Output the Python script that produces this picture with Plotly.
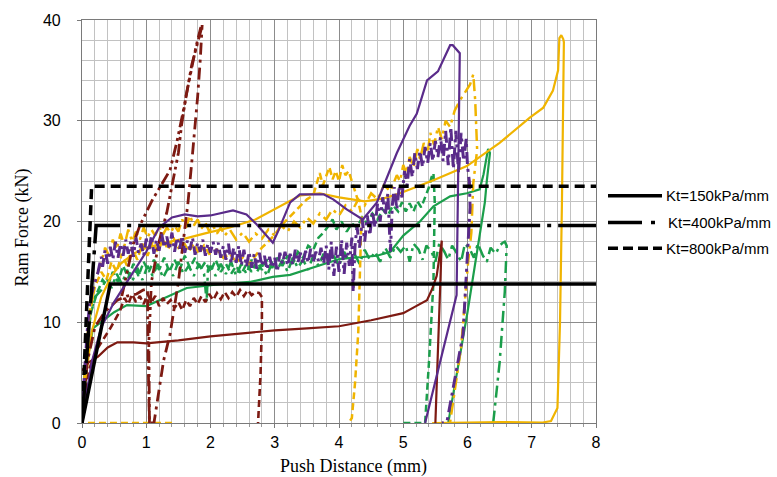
import plotly.graph_objects as go

# ---------------- data: push distance (mm) vs ram force (kN) ----------------
# idealised bilinear spring responses
kt_labels = ["Kt=150kPa/mm", "Kt=400kPa/mm", "Kt=800kPa/mm"]
kt150_x = [0, 0.44, 8]
kt150_y = [0, 13.8, 13.8]
kt400_x = [0, 0.22, 8]
kt400_y = [0, 19.6, 19.6]
kt800_x = [0, 0.15, 8]
kt800_y = [0, 23.5, 23.5]

# dark red tests
red_solid = [(0, 5.2), (0.1, 6.0), (0.25, 6.6), (0.4, 7.5), (0.55, 8.0), (0.8, 8.0), (1.0, 7.9),
             (1.5, 8.2), (2.0, 8.6), (2.5, 8.9), (3.0, 9.2), (3.5, 9.4), (4.0, 9.6), (4.5, 10.2),
             (4.8, 10.6), (5.0, 10.9), (5.2, 11.6), (5.37, 12.2), (5.45, 13.3), (5.52, 14.6),
             (5.6, 18.1), (5.5, 0)]
red_dash = [(0, 0), (0.05, 3), (0.12, 5.5), (0.25, 7.5), (0.44, 9.4), (0.59, 11.1), (0.66, 12.4),
            (0.72, 11.8), (0.78, 12.8), (0.84, 12.0), (0.9, 12.6), (0.96, 11.8), (1.02, 12.8),
            (1.08, 12.0), (1.14, 12.6), (1.2, 11.6), (1.26, 12.4), (1.32, 11.8), (1.38, 12.2),
            (1.44, 11.4), (1.5, 12.0), (1.56, 11.2), (1.62, 12.2), (1.68, 11.6), (1.74, 12.4),
            (1.8, 11.8), (1.86, 12.6), (1.92, 12.0), (1.98, 12.8), (2.04, 12.2), (2.1, 12.9),
            (2.16, 12.3), (2.22, 13.0), (2.28, 12.4), (2.34, 13.0), (2.4, 12.5), (2.46, 13.2),
            (2.52, 12.6), (2.58, 13.2), (2.64, 12.7), (2.7, 13.0), (2.76, 12.9), (2.8, 12.5),
            (2.8, 10.0), (2.78, 5.0), (2.74, 0)]
red_dashdot = [(0, 0), (0.08, 6), (0.2, 9.5), (0.35, 11), (0.55, 12.2), (0.7, 12.6), (0.85, 12.8),
               (0.95, 13.2), (1.02, 13.3), (1.03, 6), (1.05, 0), (1.12, 0), (1.27, 6.2),
               (1.37, 8.8), (1.5, 14), (1.6, 19), (1.65, 21.9), (1.71, 26), (1.76, 29.5),
               (1.8, 32.4), (1.84, 36), (1.87, 39.5)]
red_dashdot_b = [(0.62, 12.6), (0.72, 15.5), (0.8, 17.8), (0.9, 19.6), (0.98, 20.7), (1.1, 22.2),
                 (1.25, 23.8), (1.37, 25.1), (1.48, 28.0), (1.6, 31.7), (1.71, 35.6), (1.8, 37.8),
                 (1.86, 39.2)]
red_dashdot_c = [(1.05, 0), (1.04, 8), (1.08, 14), (1.2, 18), (1.32, 20.9), (1.42, 24), (1.5, 26.8),
                 (1.55, 29.6), (1.62, 32.5), (1.7, 35), (1.78, 37.5), (1.85, 39.3)]

# purple tests
purple_solid = [(0, 0), (0.05, 2), (0.15, 6), (0.3, 9.5), (0.5, 12), (0.75, 14.5), (1.0, 17),
                (1.2, 19.4), (1.4, 20.4), (1.6, 20.7), (1.8, 20.5), (2.0, 20.6), (2.35, 21.1),
                (2.56, 20.7), (2.72, 19.7), (2.97, 17.9), (3.05, 19.0), (3.24, 21.9), (3.39, 22.7),
                (3.76, 22.7), (3.91, 22.2), (4.12, 21.2), (4.27, 20.6), (4.37, 20.2), (4.59, 21.9),
                (4.9, 26.8), (5.1, 29.5), (5.21, 30.7), (5.37, 34), (5.54, 34.9), (5.73, 37.5),
                (5.77, 37.5), (5.88, 36.7), (5.83, 12.7), (5.34, 0)]
purple_dashdot = [(0, 0), (0.03, 4), (0.08, 9), (0.12, 12), (0.18, 13.5), (0.25, 15), (0.3, 16.5),
                  (0.32, 15.5), (0.36, 17.2), (0.4, 15.8), (0.44, 17.5), (0.48, 16.2), (0.52, 18.0),
                  (0.56, 16.4), (0.6, 17.8), (0.64, 16.6), (0.68, 18.2), (0.72, 16.8), (0.76, 18.0),
                  (0.8, 16.5), (0.84, 18.4), (0.88, 16.9), (0.92, 17.8), (0.96, 16.6), (1.0, 18.3),
                  (1.04, 17.0), (1.08, 18.6), (1.12, 16.8), (1.16, 18.2), (1.2, 17.1), (1.24, 18.8),
                  (1.28, 17.4), (1.32, 18.5), (1.36, 17.2), (1.4, 18.9), (1.44, 17.0), (1.48, 18.4),
                  (1.52, 17.3), (1.56, 18.6), (1.6, 16.9), (1.64, 18.1), (1.68, 17.2), (1.72, 18.4),
                  (1.76, 16.7), (1.8, 17.9), (1.84, 17.0), (1.88, 18.2), (1.92, 16.6), (1.96, 17.8),
                  (2.0, 16.9), (2.04, 18.0), (2.08, 16.7), (2.12, 17.9), (2.16, 16.4), (2.2, 17.6),
                  (2.24, 16.2), (2.28, 17.8), (2.32, 15.8), (2.36, 17.4), (2.4, 15.9), (2.44, 17.6),
                  (2.48, 15.6), (2.52, 17.2), (2.56, 15.5), (2.6, 17.0), (2.64, 15.4), (2.68, 16.8),
                  (2.72, 15.3), (2.76, 16.9), (2.8, 15.6), (2.84, 16.6), (2.88, 15.2), (2.92, 16.5),
                  (2.96, 15.4), (3.0, 16.4), (3.04, 15.0), (3.08, 16.9), (3.12, 15.8), (3.16, 17.0),
                  (3.2, 15.6), (3.24, 16.8), (3.28, 15.7), (3.32, 17.2), (3.36, 15.9), (3.4, 16.9),
                  (3.44, 15.8), (3.48, 17.1), (3.52, 15.9), (3.56, 17.3), (3.6, 16.0), (3.64, 17.0),
                  (3.68, 16.1), (3.72, 17.4), (3.76, 15.8), (3.8, 17.6), (3.84, 15.2), (3.88, 18.0),
                  (3.92, 14.6), (3.96, 17.5), (4.0, 15.0), (4.04, 18.2), (4.08, 14.8), (4.12, 17.9),
                  (4.16, 15.6), (4.2, 18.4), (4.22, 13.0), (4.25, 17.6), (4.28, 19.5), (4.32, 17.4),
                  (4.36, 20.2), (4.4, 18.0), (4.44, 20.6), (4.48, 18.6), (4.52, 21.0), (4.56, 19.4),
                  (4.6, 21.8), (4.64, 20.0), (4.68, 22.4), (4.72, 20.6), (4.76, 22.8), (4.8, 17.0),
                  (4.83, 21.6), (4.86, 23.4), (4.9, 21.2), (4.94, 23.6), (4.98, 22.4), (5.02, 25.0),
                  (5.06, 23.6), (5.1, 26.2), (5.14, 24.4), (5.18, 26.8), (5.22, 25.2), (5.26, 27.0),
                  (5.3, 25.4), (5.34, 27.4), (5.38, 25.8), (5.42, 27.8), (5.46, 26.0), (5.5, 28.0),
                  (5.54, 26.4), (5.58, 28.4), (5.62, 26.0), (5.66, 29.0), (5.7, 25.6), (5.74, 29.4),
                  (5.78, 25.2), (5.82, 29.0), (5.86, 24.8), (5.9, 28.8), (5.94, 26.0), (5.98, 28.2),
                  (6.0, 25.5), (6.03, 23.9), (6.04, 21.4), (5.93, 8.8), (5.68, 0.1), (5.6, 0)]

# gold tests
gold_solid = [(0, 0), (0.05, 4), (0.15, 9), (0.3, 12.5), (0.45, 14.5), (0.6, 15.8), (0.8, 16.8),
              (1.0, 17.4), (1.3, 17.9), (1.6, 18.3), (1.9, 18.8), (2.3, 19.4), (2.7, 20.2),
              (3.08, 21.5), (3.4, 22.6), (3.7, 22.8), (4.0, 22.4), (4.4, 22.0), (4.7, 22.3),
              (4.95, 22.8), (5.47, 24.1), (5.99, 25.5), (6.5, 27.8), (6.97, 30.3), (7.18, 31.3),
              (7.33, 33), (7.41, 35), (7.43, 38.2), (7.46, 38.5), (7.49, 38.1), (7.5, 37.8),
              (7.47, 21.9), (7.44, 10), (7.4, 1.5), (7.3, 0.2), (7.17, 0.05), (6.5, 0.1),
              (6.0, 0.05), (5.45, 0)]
gold_dashdot = [(0, 0), (0.04, 5), (0.1, 10), (0.2, 14), (0.3, 16), (0.36, 17.4), (0.42, 16.6),
                (0.48, 18.2), (0.54, 17.2), (0.6, 18.8), (0.66, 17.6), (0.72, 19.2), (0.78, 18.0),
                (0.84, 19.0), (0.9, 18.2), (0.96, 19.4), (1.02, 18.4), (1.08, 19.2), (1.14, 18.6),
                (1.2, 19.5), (1.26, 18.7), (1.32, 19.4), (1.38, 18.9), (1.44, 19.6), (1.5, 19.0),
                (1.56, 20.2), (1.62, 19.4), (1.68, 20.6), (1.74, 19.6), (1.8, 20.2), (1.86, 19.3),
                (1.92, 19.9), (1.98, 19.0), (2.04, 19.6), (2.1, 18.8), (2.16, 19.4), (2.22, 18.6),
                (2.3, 19.2), (2.4, 18.2), (2.5, 18.9), (2.6, 18.0), (2.7, 18.8), (2.8, 18.3),
                (2.9, 19.2), (3.0, 18.6), (3.1, 19.6), (3.2, 19.0), (3.3, 20.0), (3.4, 19.4),
                (3.5, 20.4), (3.6, 19.8), (3.7, 20.8), (3.8, 20.2), (3.9, 21.2), (4.0, 20.6),
                (4.1, 21.6), (4.2, 21.0), (4.3, 22.2), (4.4, 21.6), (4.5, 22.8), (4.6, 22.2),
                (4.7, 23.6), (4.8, 23.0), (4.9, 24.6), (4.95, 24.0), (5.0, 25.6), (5.05, 24.8),
                (5.1, 26.4), (5.16, 25.4), (5.22, 27.2), (5.26, 26.2), (5.32, 27.8), (5.38, 26.8),
                (5.42, 28.8), (5.48, 27.6), (5.54, 29.4), (5.6, 28.2), (5.66, 30.0), (5.73, 29.4),
                (5.8, 31.0), (5.88, 32.0), (5.96, 32.8), (6.04, 33.6), (6.09, 34.6), (6.12, 32.0),
                (6.15, 27.1), (6.09, 23.8), (6.06, 18.9), (6.01, 16.0), (5.9, 7.5), (5.73, 0.1)]
gold_dash = [(1.4, 0), (0, 0), (0.05, 6), (0.12, 11), (0.2, 13.5), (0.3, 15.0), (0.38, 14.2),
             (0.46, 16.0), (0.54, 15.0), (0.62, 16.8), (0.7, 15.6), (0.78, 17.4), (0.86, 16.2),
             (0.94, 17.8), (1.02, 16.6), (1.1, 18.0), (1.18, 17.0), (1.26, 18.2), (1.34, 17.2),
             (1.42, 18.4), (1.5, 17.4), (1.58, 18.0), (1.66, 17.0), (1.74, 17.8), (1.82, 16.8),
             (1.9, 17.6), (1.98, 16.8), (2.1, 17.2), (2.2, 16.4), (2.3, 16.8), (2.4, 16.0),
             (2.5, 16.4), (2.6, 15.8), (2.7, 16.6), (2.8, 17.4), (2.9, 18.0), (3.0, 18.7),
             (3.1, 19.6), (3.24, 20.5), (3.4, 21.5), (3.5, 22.2), (3.6, 22.6), (3.65, 23.8),
             (3.7, 24.8), (3.75, 23.6), (3.8, 24.4), (3.85, 25.4), (3.9, 24.2), (3.95, 25.0),
             (4.0, 24.0), (4.05, 25.6), (4.1, 24.6), (4.15, 25.0), (4.2, 24.0), (4.25, 23.0),
             (4.3, 22.0), (4.35, 20.5), (4.33, 15.0), (4.3, 9.0), (4.25, 4.0), (4.2, 0.5), (4.15, 0)]

# green tests
green_solid = [(0, 0), (0.05, 5), (0.17, 9.4), (0.3, 10.0), (0.5, 11.0), (0.7, 11.7), (1.0, 11.6),
               (1.32, 12.5), (1.63, 13.4), (2.04, 13.7), (2.61, 14.0), (2.97, 14.5), (3.24, 14.7),
               (4.02, 16.3), (4.59, 16.6), (4.8, 17.0), (5.0, 18.6), (5.26, 20.0), (5.47, 21.5),
               (5.73, 22.5), (5.99, 22.8), (6.19, 23.2), (6.25, 24.7), (6.32, 27.2), (6.35, 26.8),
               (6.3, 24.0), (6.27, 21.9), (6.0, 11.0), (5.7, 0)]
green_dashdot = [(0, 0), (0.05, 6), (0.12, 10.5), (0.2, 12.5), (0.3, 13.2), (0.38, 14.4), (0.46, 13.4),
                 (0.54, 14.8), (0.62, 13.8), (0.7, 15.2), (0.78, 14.0), (0.86, 15.4), (0.94, 14.2),
                 (1.02, 15.6), (1.1, 14.6), (1.18, 15.8), (1.26, 14.4), (1.34, 15.4), (1.42, 14.6),
                 (1.5, 16.0), (1.58, 14.8), (1.66, 15.6), (1.74, 14.6), (1.82, 15.8), (1.9, 14.8),
                 (1.94, 12.0), (1.96, 15.2), (2.0, 15.6), (2.08, 14.6), (2.16, 15.8), (2.24, 14.8),
                 (2.32, 16.0), (2.4, 14.6), (2.48, 15.8), (2.56, 14.8), (2.64, 16.2), (2.72, 15.0),
                 (2.8, 15.8), (2.88, 14.6), (2.96, 16.0), (3.04, 15.2), (3.12, 16.2), (3.2, 15.0),
                 (3.28, 16.4), (3.36, 15.4), (3.44, 16.2), (3.52, 15.2), (3.6, 16.6), (3.68, 15.6),
                 (3.76, 16.8), (3.84, 15.8), (3.92, 16.6), (4.0, 15.6), (4.08, 17.0), (4.16, 16.0),
                 (4.24, 16.8), (4.32, 15.8), (4.4, 17.2), (4.48, 16.2), (4.56, 17.0), (4.64, 16.0),
                 (4.72, 17.4), (4.8, 16.4), (4.88, 17.6), (4.96, 17.0), (5.04, 17.6), (5.1, 16.0),
                 (5.16, 17.8), (5.24, 17.2), (5.3, 16.2), (5.36, 17.6), (5.44, 17.0), (5.5, 16.0),
                 (5.56, 17.8), (5.64, 17.0), (5.7, 16.2), (5.76, 17.6), (5.84, 16.8), (5.9, 16.0),
                 (5.96, 17.8), (6.04, 17.2), (6.1, 16.4), (6.16, 17.8), (6.24, 16.6), (6.3, 16.0),
                 (6.36, 17.4), (6.44, 16.8), (6.5, 17.6), (6.55, 17.9), (6.58, 18.0), (6.61, 17.6),
                 (6.58, 13.0), (6.5, 6.0), (6.4, 0)]
green_dash = [(0, 0), (0.06, 7), (0.14, 11), (0.24, 13), (0.32, 14.2), (0.4, 13.6), (0.48, 15.0),
              (0.56, 14.0), (0.64, 15.6), (0.72, 14.4), (0.8, 15.8), (0.88, 14.6), (0.96, 16.0),
              (1.04, 15.0), (1.12, 16.2), (1.2, 15.2), (1.28, 16.4), (1.36, 15.0), (1.44, 16.2),
              (1.52, 15.2), (1.6, 16.6), (1.68, 15.4), (1.76, 16.4), (1.84, 15.2), (1.92, 16.0),
              (2.0, 15.0), (2.08, 16.2), (2.16, 15.0), (2.24, 15.8), (2.32, 14.8), (2.4, 15.6),
              (2.48, 14.8), (2.56, 15.8), (2.64, 15.0), (2.72, 16.0), (2.8, 15.2), (2.88, 16.2),
              (2.96, 15.4), (3.04, 16.4), (3.12, 15.6), (3.2, 16.6), (3.28, 15.8), (3.36, 17.0),
              (3.44, 16.4), (3.52, 17.6), (3.6, 17.2), (3.68, 18.4), (3.76, 18.9), (3.84, 19.6),
              (3.9, 20.2), (3.96, 19.2), (4.04, 20.0), (4.12, 19.0), (4.2, 19.8), (4.28, 19.4),
              (4.36, 20.4), (4.44, 19.8), (4.52, 20.8), (4.6, 20.2), (4.68, 21.2), (4.76, 20.6),
              (4.84, 21.6), (4.92, 21.0), (4.98, 21.9), (5.04, 21.0), (5.1, 21.8), (5.16, 21.0),
              (5.22, 22.0), (5.28, 21.4), (5.34, 22.4), (5.4, 23.4), (5.44, 24.4), (5.47, 24.8),
              (5.49, 22.0), (5.47, 14.0), (5.4, 6.0), (5.34, 0), (5.0, 0)]

# ---------------- styling ----------------
RED = "#7D1A12"
PURPLE = "#5A2B8A"
GOLD = "#F0B400"
GREEN = "#1B9E4B"
DASH_DOT = "12px,5px,3px,5px"
DASH_DOT_DOT = "12px,4px,3px,4px,3px,4px"
DASH = "7px,4px"

series = [
    (green_solid, GREEN, "solid", 2.2),
    (green_dashdot, GREEN, DASH_DOT, 2.5),
    (green_dash, GREEN, DASH, 2.5),
    (gold_solid, GOLD, "solid", 2.2),
    (gold_dashdot, GOLD, DASH_DOT, 2.5),
    (gold_dash, GOLD, DASH, 2.5),
    (red_solid, RED, "solid", 2.2),
    (red_dash, RED, DASH, 2.6),
    (red_dashdot, RED, DASH_DOT, 2.8),
    (red_dashdot_b, RED, DASH_DOT_DOT, 2.8),
    (red_dashdot_c, RED, DASH_DOT_DOT, 2.8),
    (purple_dashdot, PURPLE, DASH_DOT, 3.0),
    (purple_solid, PURPLE, "solid", 2.2),
]

fig = go.Figure()
for pts, color, dash, width in series:
    xs = [p[0] for p in pts]
    ys = [p[1] for p in pts]
    fig.add_trace(go.Scatter(x=xs, y=ys, mode="lines", showlegend=False, hoverinfo="skip",
                             line=dict(color=color, width=width, dash=dash)))

KT_DASH = ["solid", "42px,7px,4px,7px", "10px,6px"]
for (xs, ys), dash, name in zip([(kt150_x, kt150_y), (kt400_x, kt400_y), (kt800_x, kt800_y)],
                                KT_DASH, kt_labels):
    fig.add_trace(go.Scatter(x=xs, y=ys, mode="lines", name=name, showlegend=False,
                             hoverinfo="skip", line=dict(color="black", width=3.5, dash=dash)))

# legend drawn beside the plot area
L, R, T, B = 82, 596, 15, 423
W, H = R - L, B - T


def px_x(px):
    return (px - L) / W


def px_y(py):
    return (B - py) / H


legend_rows = [(193, "solid", 608, 662, 664), (220, "34px,9px,4px,30px", 608, 656, 666),
               (246, "10px,5px", 608, 662, 664)]
for (py, dash, x0, x1, tx), label in zip(legend_rows, kt_labels):
    fig.add_shape(type="line", xref="paper", yref="paper", x0=px_x(x0), x1=px_x(x1),
                  y0=px_y(py), y1=px_y(py), line=dict(color="black", width=3.5, dash=dash))
    fig.add_annotation(xref="paper", yref="paper", x=px_x(tx), y=px_y(py), text=label,
                       showarrow=False, xanchor="left", yanchor="middle",
                       font=dict(family="Arial, Liberation Sans", size=15, color="black"))

# axis titles
fig.add_annotation(xref="paper", yref="paper", x=px_x(353), y=px_y(467), text="Push Distance (mm)",
                   showarrow=False, xanchor="center", yanchor="middle",
                   font=dict(family="Times New Roman, Liberation Serif", size=18, color="black"))
fig.add_annotation(xref="paper", yref="paper", x=px_x(22), y=px_y(225), text="Ram Force (kN)",
                   showarrow=False, xanchor="center", yanchor="middle", textangle=-90,
                   font=dict(family="Times New Roman, Liberation Serif", size=18, color="black"))

axis_common = dict(
    showgrid=True, gridcolor="#8c8c8c", gridwidth=1.2,
    showline=True, linecolor="#7a7a7a", linewidth=1.2, mirror=True,
    zeroline=False, ticks="outside", ticklen=4, tickcolor="#7a7a7a",
    tickfont=dict(family="Arial, Liberation Sans", size=16, color="black"),
)
fig.update_xaxes(range=[0, 8], dtick=1, tick0=0, ticklabelstandoff=1,
                 minor=dict(dtick=0.2, showgrid=True, gridcolor="#c2c2c2", gridwidth=1,
                            ticks="outside", ticklen=3, tickcolor="#9a9a9a"),
                 **axis_common)
fig.update_yaxes(range=[0, 40], dtick=10, tick0=0, ticklabelstandoff=13,
                 minor=dict(dtick=2, showgrid=True, gridcolor="#c2c2c2", gridwidth=1),
                 **axis_common)

fig.update_layout(
    width=777, height=477,
    margin=dict(l=L, r=777 - R, t=T, b=477 - B),
    plot_bgcolor="white", paper_bgcolor="white",
    showlegend=False,
)

fig.write_html("out.html")
